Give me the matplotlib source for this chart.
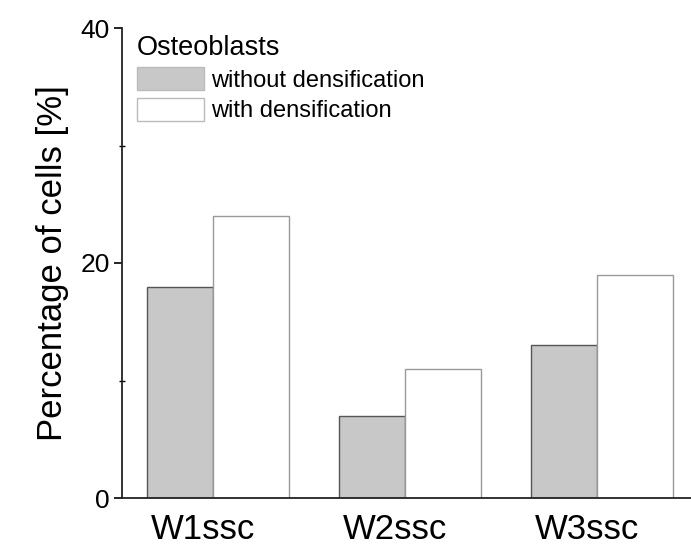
import matplotlib
matplotlib.use("Agg")
import matplotlib.pyplot as plt
from matplotlib.patches import Patch
from matplotlib.ticker import MultipleLocator
import numpy as np

categories = ["W1ssc", "W2ssc", "W3ssc"]
without_dens = [18, 7, 13]
with_dens = [24, 11, 19]
series_labels = ["without densification", "with densification"]
legend_title = "Osteoblasts"

plt.rcParams['font.family'] = ['Liberation Sans', 'DejaVu Sans']

fig = plt.figure(figsize=(6.91, 5.56), dpi=100)
ax = fig.add_axes([122/691, 1-498/556, 1-122/691, (498-28)/556])

x = np.arange(len(categories))
gray_w = 0.344
white_w = 0.396
ax.bar(x, without_dens, width=-gray_w, align='edge', color='#c8c8c8',
       edgecolor='#555555', linewidth=1.0)
ax.bar(x, with_dens, width=white_w, align='edge', color='white',
       edgecolor='#999999', linewidth=1.0)

ax.set_xlim(-0.474, 2.49)
ax.set_ylim(0, 40)
ax.set_xticks(x - 0.05)
ax.set_xticklabels(categories, fontsize=25)
ax.tick_params(axis='x', length=0, pad=11)
ax.yaxis.set_major_locator(MultipleLocator(20))
ax.yaxis.set_minor_locator(MultipleLocator(10))
ax.tick_params(axis='y', which='major', direction='out', length=6, width=1.2, labelsize=19, pad=3)
ax.tick_params(axis='y', which='minor', direction='inout', length=5, width=1.0)
ax.set_ylabel("Percentage of cells [%]", fontsize=25, labelpad=8)

for s in ['top', 'right']:
    ax.spines[s].set_visible(False)
ax.spines['left'].set_linewidth(1.3)
ax.spines['bottom'].set_linewidth(1.3)
ax.spines['left'].set_color('#222222')
ax.spines['bottom'].set_color('#222222')

handles = [Patch(facecolor='#c8c8c8', edgecolor='#bbbbbb', label=series_labels[0]),
           Patch(facecolor='white', edgecolor='#bbbbbb', label=series_labels[1])]
leg = ax.legend(handles=handles, title=legend_title, loc='upper left',
                bbox_to_anchor=(0.022, 0.99), frameon=False, fontsize=17,
                title_fontsize=19.5, handlelength=2.85, handleheight=1.15,
                handletextpad=0.3, labelspacing=0.25, borderaxespad=0.0,
                borderpad=0.1)
leg._legend_box.align = "left"

fig.savefig("out.png", dpi=100)
